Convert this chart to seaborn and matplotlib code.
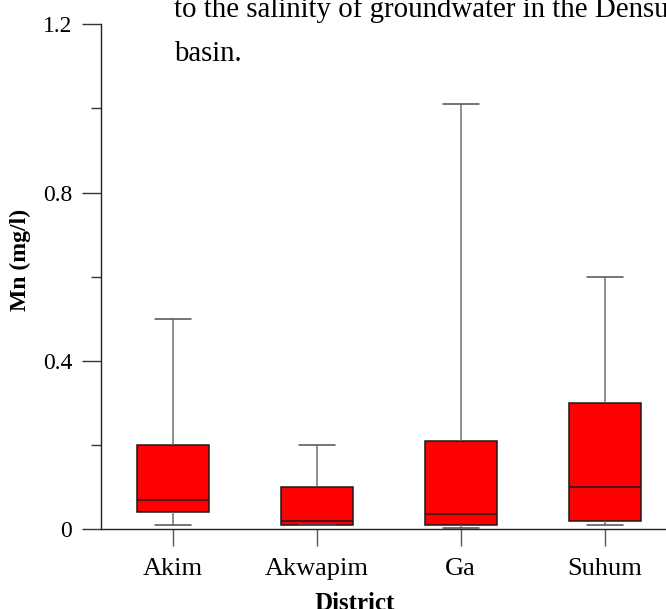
import matplotlib
matplotlib.use("Agg")
import matplotlib.pyplot as plt
import seaborn as sns
import pandas as pd

# five-number summaries (min, q1, median, q3, max)
districts = ["Akim", "Akwapim", "Ga", "Suhum"]
akim = [0.01, 0.04, 0.07, 0.20, 0.50]
akwapim = [0.01, 0.01, 0.02, 0.10, 0.20]
ga = [0.003, 0.01, 0.035, 0.21, 1.01]
suhum = [0.01, 0.02, 0.10, 0.30, 0.60]

yticks = [0, 0.4, 0.8, 1.2]
ytick_labels = ["0", "0.4", "0.8", "1.2"]
yminor = [0.2, 0.6, 1.0]

sns.set_style("ticks")
plt.rcParams["font.family"] = ["Liberation Serif", "DejaVu Serif"]
plt.rcParams["text.color"] = "black"
plt.rcParams["xtick.labelcolor"] = "black"
plt.rcParams["ytick.labelcolor"] = "black"

df = pd.DataFrame({
    "District": [d for d, v in zip(districts, [akim, akwapim, ga, suhum]) for _ in v],
    "Mn": akim + akwapim + ga + suhum,
})

fig = plt.figure(figsize=(6.66, 6.09), dpi=100)
ax = fig.add_axes([0.1512, 0.1314, 0.8646, 0.8287])

sns.boxplot(data=df, x="District", y="Mn", order=districts, ax=ax,
            color="#ff0000", saturation=1, width=0.5, whis=(0, 100),
            showfliers=False, linecolor="#1a1a1a", linewidth=1.1,
            whiskerprops=dict(color="#707070", linewidth=1.1),
            capprops=dict(color="#505050", linewidth=1.1))

ax.set_xlim(-0.5, 3.5)
ax.set_ylim(0, 1.2)
ax.set_yticks(yticks)
ax.set_yticklabels(ytick_labels, fontsize=17)
ax.set_yticks(yminor, minor=True)
ax.tick_params(axis="y", which="major", length=13.5, width=1, pad=7, color="#333333")
ax.tick_params(axis="y", which="minor", length=7, width=1, color="#333333")
ax.tick_params(axis="x", length=12, width=1, pad=9, labelsize=19, color="#555555")
ax.set_xlabel("")
ax.set_ylabel("")
for s in ["top", "right"]:
    ax.spines[s].set_visible(False)
for s in ["left", "bottom"]:
    ax.spines[s].set_linewidth(1)
    ax.spines[s].set_color("#222222")

fig.text(355 / 666, -0.002, "District", ha="center", va="baseline",
         fontsize=18, fontweight="bold")
fig.text(20 / 666, 1 - 259.5 / 609, "Mn (mg/l)", ha="center", va="center",
         rotation=90, fontsize=17, fontweight="bold")

# caption text overlapping the top of the figure
fig.text(174 / 666, 1 - 16.7 / 609, "to the salinity of groundwater in the Densu",
         ha="left", va="baseline", fontsize=20.8)
fig.text(174 / 666, 1 - 61 / 609, "basin.", ha="left", va="baseline", fontsize=20.8)

fig.savefig("out.png", dpi=100)
